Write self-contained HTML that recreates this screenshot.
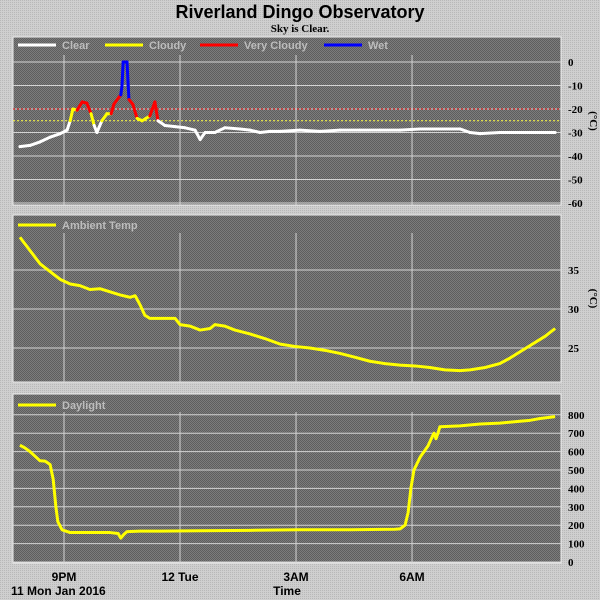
<!DOCTYPE html>
<html><head><meta charset="utf-8"><style>
body{margin:0;background:#c6c6c6;}
svg{display:block;font-family:"Liberation Sans",sans-serif;}
.tk{font-family:"Liberation Serif",serif;font-weight:bold;font-size:11px;fill:#000;}
.lg{font-weight:bold;font-size:11px;fill:#bdbdbd;}
.ax{font-weight:bold;font-size:12px;fill:#000;}
</style></head><body>
<svg id="c" width="600" height="600">
<defs>
<pattern id="dither" width="2" height="2" patternUnits="userSpaceOnUse"><rect width="2" height="2" fill="#7c7c7c"/><rect width="1" height="1" fill="#5e5e5e"/><rect x="1" y="1" width="1" height="1" fill="#5e5e5e"/></pattern>
<pattern id="bgd" width="2" height="2" patternUnits="userSpaceOnUse"><rect width="2" height="2" fill="#cfcfcf"/><rect width="1" height="1" fill="#b8b8b8"/></pattern>
</defs>
<rect width="600" height="600" fill="url(#bgd)"/>
<text x="300" y="18" text-anchor="middle" font-weight="bold" font-size="18">Riverland Dingo Observatory</text>
<text x="300" y="32" text-anchor="middle" font-family="Liberation Serif" font-weight="bold" font-size="11">Sky is Clear.</text>
<g id="g"></g>
<text class="ax" x="64" y="581" text-anchor="middle">9PM</text>
<text class="ax" x="180" y="581" text-anchor="middle">12 Tue</text>
<text class="ax" x="296" y="581" text-anchor="middle">3AM</text>
<text class="ax" x="412" y="581" text-anchor="middle">6AM</text>
<text class="ax" x="11" y="595">11 Mon Jan 2016</text>
<text class="ax" x="287" y="595" text-anchor="middle">Time</text>
</svg>
<script>
const xTickHours=[0,3,6,9];
const skyTimes=[-1.14,-0.88,-0.62,-0.36,-0.10,0.08,0.16,0.23,0.34,0.47,0.59,0.70,0.78,0.85,0.98,1.11,1.22,1.29,1.42,1.47,1.50,1.53,1.63,1.66,1.68,1.78,1.89,2.02,2.12,2.22,2.35,2.43,2.61,2.87,3.13,3.39,3.52,3.65,3.90,4.16,4.55,4.81,5.07,5.33,5.59,6.10,6.62,7.14,7.65,8.17,8.69,9.21,9.72,10.24,10.50,10.76,11.27,11.79,12.31,12.70];
const skyValues=[-36,-35.5,-34,-32,-30.5,-29,-25,-20,-20.5,-17,-17.5,-22,-27,-30,-25,-22,-22,-18,-15,-14,-10,0,0,-10,-16,-18,-24,-25,-24,-23,-17,-25,-27,-27.5,-28,-29,-33,-30,-30,-28,-28.5,-29,-30,-29.5,-29.5,-29,-29.5,-29,-29,-29,-29,-28.5,-28.5,-28.5,-30,-30.5,-30,-30,-30,-30];
const wetStart=1.47, wetEnd=1.68;
const skyTicks=[0,-10,-20,-30,-40,-50,-60];
const tempTimes=[-1.14,-0.88,-0.62,-0.36,-0.10,0.16,0.41,0.67,0.93,1.19,1.45,1.71,1.84,1.97,2.09,2.22,2.48,2.87,3.00,3.26,3.52,3.78,3.90,4.16,4.42,4.81,5.20,5.59,5.97,6.36,6.75,7.14,7.53,7.91,8.30,8.69,9.08,9.46,9.85,10.24,10.50,10.89,11.27,11.53,11.79,12.05,12.44,12.70];
const tempValues=[39.2,37.5,35.8,34.8,33.8,33.2,33.0,32.5,32.6,32.2,31.8,31.5,31.7,30.5,29.2,28.8,28.8,28.8,28.0,27.8,27.3,27.5,28.0,27.8,27.3,26.8,26.2,25.5,25.2,25.0,24.7,24.3,23.8,23.3,23.0,22.8,22.7,22.5,22.2,22.1,22.2,22.5,23.0,23.7,24.5,25.3,26.5,27.5];
const tempTicks=[35,30,25];
const dayTimes=[-1.14,-1.01,-0.88,-0.75,-0.62,-0.49,-0.36,-0.28,-0.21,-0.16,-0.05,0.16,0.67,1.19,1.40,1.47,1.55,1.63,1.97,2.48,3.52,4.81,6.10,7.40,8.56,8.69,8.82,8.90,8.97,9.05,9.21,9.41,9.52,9.57,9.62,9.67,9.72,10.24,10.76,11.27,11.79,12.05,12.31,12.70];
const dayValues=[635,620,600,575,550,548,530,450,300,220,175,160,160,160,155,130,150,165,168,168,170,172,175,175,178,180,200,270,400,500,570,630,680,700,670,700,735,740,750,755,765,770,780,790];
const dayTicks=[800,700,600,500,400,300,200,100,0];

const NS='http://www.w3.org/2000/svg';
const G=document.getElementById('g');
function mk(tag,attrs,parent){const e=document.createElementNS(NS,tag);for(const k in attrs)e.setAttribute(k,attrs[k]);(parent||G).appendChild(e);return e;}
const xs=t=>64+t*38.67;
const X0=13,X1=561;
function panel(name,top,bot,ys,ticks,unit){
  const p=mk('rect',{x:X0,y:top,width:X1-X0,height:bot-top,fill:'url(#dither)',stroke:'#eeeeee','stroke-width':1});
  
  
  ticks.forEach(v=>{
    const y=ys(v);
    const l=mk('line',{x1:X0,x2:X1,y1:y,y2:y,stroke:'#d4d4d4','stroke-width':1});
    
    
    const t=mk('text',{x:568,y:y+4,class:'tk'});t.textContent=v;
    
    
  });
  xTickHours.forEach(h=>{
    const l=mk('line',{x1:xs(h),x2:xs(h),y1:top+18,y2:bot,stroke:'#d4d4d4','stroke-width':1});
    
    
  });
  if(unit){const yc=(top+bot)/2;const u=mk('text',{x:590,y:yc,class:'tk','font-size':'12',transform:'rotate(90 590 '+yc+')','text-anchor':'middle'});u.textContent='(°C)';
    
    }
}
function legend(items,y){
  items.forEach(([lab,col,x])=>{
    const l=mk('line',{x1:x,x2:x+38,y1:y,y2:y,stroke:col,'stroke-width':3});
    
    
    const t=mk('text',{x:x+44,y:y+4,class:'lg'});t.textContent=lab;
    
    
  });
}
const ys1=v=>62-v*2.35;
panel('sky-temp',37,205,ys1,skyTicks,true);
[[-20,'#ff2020'],[-25,'#ffff40']].forEach(([v,c])=>{
  const l=mk('line',{x1:X0,x2:X1,y1:ys1(v),y2:ys1(v),stroke:c,'stroke-width':1,'stroke-dasharray':'2,2'});
  
  
});
legend([['Clear','#fff',18],['Cloudy','#ffff00',105],['Very Cloudy','#ff0000',200],['Wet','#0000ff',324]],45);
for(let i=0;i<skyTimes.length-1;i++){
  const a=skyValues[i],b=skyValues[i+1],tm=(skyTimes[i]+skyTimes[i+1])/2;
  const m=Math.max(a,b);
  let c='#ffffff';
  if(tm>=wetStart&&tm<=wetEnd)c='#0000ff';else if(m>-20)c='#ff0000';else if(m>-25)c='#ffff00';
  const s=mk('line',{x1:xs(skyTimes[i]),y1:ys1(a),x2:xs(skyTimes[i+1]),y2:ys1(b),stroke:c,'stroke-width':3,'stroke-linecap':'round'});
  
  
}
const ys2=v=>309-(v-30)*7.8;
panel('ambient-temp',215,382,ys2,tempTicks,true);
legend([['Ambient Temp','#ffff00',18]],225);
const p2=mk('polyline',{points:tempTimes.map((t,i)=>xs(t)+','+ys2(tempValues[i])).join(' '),fill:'none',stroke:'#ffff00','stroke-width':3,'stroke-linejoin':'round'});


const ys3=v=>562-v*0.184;
panel('daylight',394,563,ys3,dayTicks,false);
legend([['Daylight','#ffff00',18]],405);
const p3=mk('polyline',{points:dayTimes.map((t,i)=>xs(t)+','+ys3(dayValues[i])).join(' '),fill:'none',stroke:'#ffff00','stroke-width':3,'stroke-linejoin':'round'});


</script>
</body></html>
